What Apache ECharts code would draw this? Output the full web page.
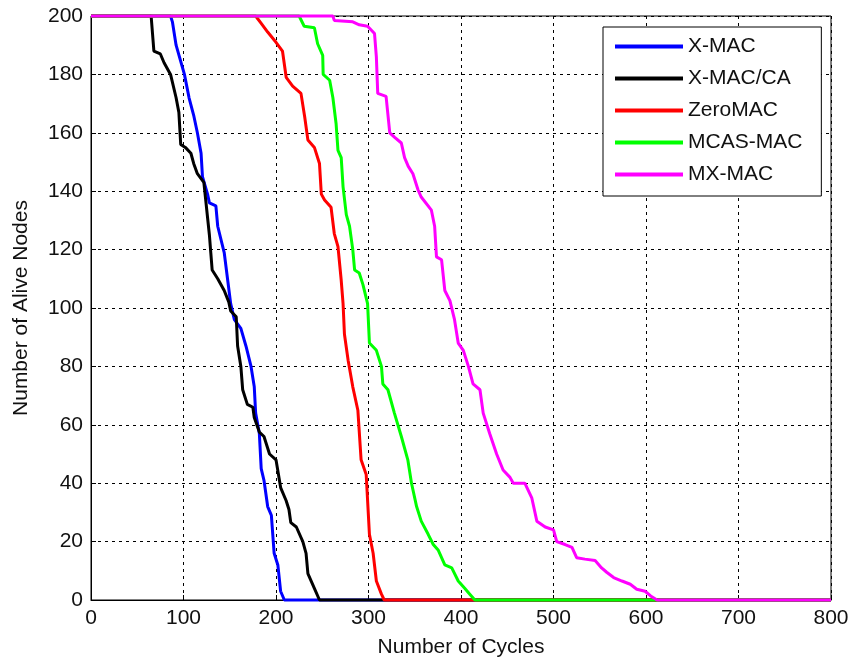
<!DOCTYPE html>
<html>
<head>
<meta charset="utf-8">
<script src="https://cdn.jsdelivr.net/npm/echarts@6/dist/echarts.min.js"></script>
<style>
html,body{margin:0;padding:0;background:#fff;}
#chart{width:853px;height:664px;}
</style>
</head>
<body>
<div id="chart"></div>
<script>
var seriesNames = ['X-MAC', 'X-MAC/CA', 'ZeroMAC', 'MCAS-MAC', 'MX-MAC'];

var xmac = [[0,200],[86,200],[88,198],[92,190],[101,180],[106,172],[111,166],[115,160],[119,153],[120.5,145],[126,139],[128,136],[135,135],[137,128],[144,119],[148,109],[151,101.5],[155,96],[162,93],[167.5,87],[173,80],[176.5,73],[178,64],[182,57],[184,45],[187,41],[191,32],[195,29],[198,16],[202,12],[205,3],[209,0],[800,0]];

var xmacca = [[0,200],[65,200],[68,188],[75,187],[79,184],[86,180],[92,172],[95,167],[97,156],[102,155],[108,153],[111,149.5],[115,146],[122,143],[124,137],[126,131],[128,125],[129.5,119],[131,113],[137,110],[144,106],[149,102],[151,99],[157,97],[158.5,87],[162,80],[164,72],[169,67],[175,66],[176.5,62.5],[182,57.5],[187,56],[193,50],[200,48],[205,38.5],[211,34],[214,31],[216,26.5],[222,25],[229,20],[232.5,16],[234.5,9],[241.5,4],[247,0],[800,0]];

var zeromac = [[0,200],[178,200],[184,197.5],[191,194.5],[200,191],[207,188],[211,179],[218,176],[227,173.5],[231,165.5],[234.5,157.5],[241.5,155],[247,149.5],[249,139],[252.5,137],[259.5,134.5],[263,125.5],[267,121],[270.5,109.5],[272.5,101.5],[274,91],[278,82],[283,73],[288.5,65],[292,48],[297.5,43],[301,22.5],[305,16],[308.5,6.5],[314,2],[317,0],[800,0]];

var mcasmac = [[0,200],[225,200],[230.5,196.5],[241.5,196],[245,190.5],[250.5,186.5],[251,180],[258,178],[261.5,172],[265,163],[267,154],[270.5,151.5],[272.5,141.5],[276,132],[279.5,128],[283,120],[285,113],[290,112],[294,108],[299,101.5],[301,88],[308.5,85.5],[314,80],[315.5,74],[321,72],[328,64],[335.5,56],[342.5,48],[346.5,40],[352,32],[357,27],[364.5,22.5],[370,19],[375.5,17],[382.5,12],[390,11],[397,6.5],[404,4],[409.5,2],[415,0],[800,0]];

var mxmac = [[0,200],[261.5,200],[263,198.5],[283,198],[290,197],[299,196.5],[306.5,194],[308.5,186],[310,173.5],[319,172.5],[323,160],[328,158.5],[335.5,156.5],[339,151.5],[343,148.5],[348,146],[353.5,140.5],[357,138],[368,133.5],[371.5,128],[373.5,117.5],[379,116.5],[382.5,106],[388,102.5],[393,96],[397,88],[402.5,85.5],[408,80],[413,74],[420.5,72],[424,64],[431,57],[438.5,50],[445.5,44.5],[453,42],[456.5,40],[469,40],[476.5,35],[482,27],[491,25],[500,24],[503.5,20],[512.5,19],[520,18],[525,14.5],[534,14],[545,13.5],[552,11],[557.5,9.5],[565,7.7],[574,6.5],[583,5.4],[590,3.7],[599,3],[605,1.4],[612,0],[800,0]];

var seriesData = [xmac, xmacca, zeromac, mcasmac, mxmac];
var seriesColors = ['#0000ff', '#000000', '#ff0000', '#00ff00', '#ff00ff'];

var chart = echarts.init(document.getElementById('chart'), null, {renderer: 'canvas'});
var fontFam = 'Liberation Sans, Arial, sans-serif';
var gridLine = {show: true, lineStyle: {color: '#000', width: 1, type: [3, 4]}};

chart.setOption({
  backgroundColor: '#fff',
  animation: false,
  grid: {left: 91, right: 22, top: 16, bottom: 64, show: true, borderColor: '#000', borderWidth: 1, backgroundColor: 'transparent'},
  legend: {
    orient: 'vertical',
    left: 603,
    top: 27,
    padding: [9, 19, 11, 12],
    itemWidth: 68,
    itemHeight: 4,
    itemGap: 11,
    icon: 'rect',
    backgroundColor: '#fff',
    borderColor: '#000',
    borderWidth: 1,
    borderRadius: 0,
    textStyle: {fontFamily: fontFam, fontSize: 21, color: '#111', lineHeight: 20},
    data: seriesNames
  },
  xAxis: {
    type: 'value', min: 0, max: 800, interval: 100,
    name: 'Number of Cycles', nameLocation: 'middle', nameGap: 37,
    nameTextStyle: {fontFamily: fontFam, fontSize: 21, color: '#111'},
    axisLine: {show: true, onZero: false, lineStyle: {color: '#000', width: 1}},
    axisTick: {show: true, inside: true, length: 5, lineStyle: {color: '#000'}},
    axisLabel: {fontFamily: fontFam, fontSize: 21, color: '#111', margin: 8},
    splitLine: gridLine
  },
  yAxis: {
    type: 'value', min: 0, max: 200, interval: 20,
    name: 'Number of Alive Nodes', nameLocation: 'middle', nameGap: 59,
    nameTextStyle: {fontFamily: fontFam, fontSize: 21, color: '#111'},
    axisLine: {show: true, lineStyle: {color: '#000', width: 1}},
    axisTick: {show: true, inside: true, length: 5, lineStyle: {color: '#000'}},
    axisLabel: {fontFamily: fontFam, fontSize: 21, color: '#111', margin: 8},
    splitLine: gridLine
  },
  series: seriesNames.map(function (n, i) {
    return {
      name: n, type: 'line', data: seriesData[i], showSymbol: false, symbol: 'none',
      lineStyle: {color: seriesColors[i], width: 3}, itemStyle: {color: seriesColors[i]},
      clip: false
    };
  })
});
</script>
</body>
</html>
